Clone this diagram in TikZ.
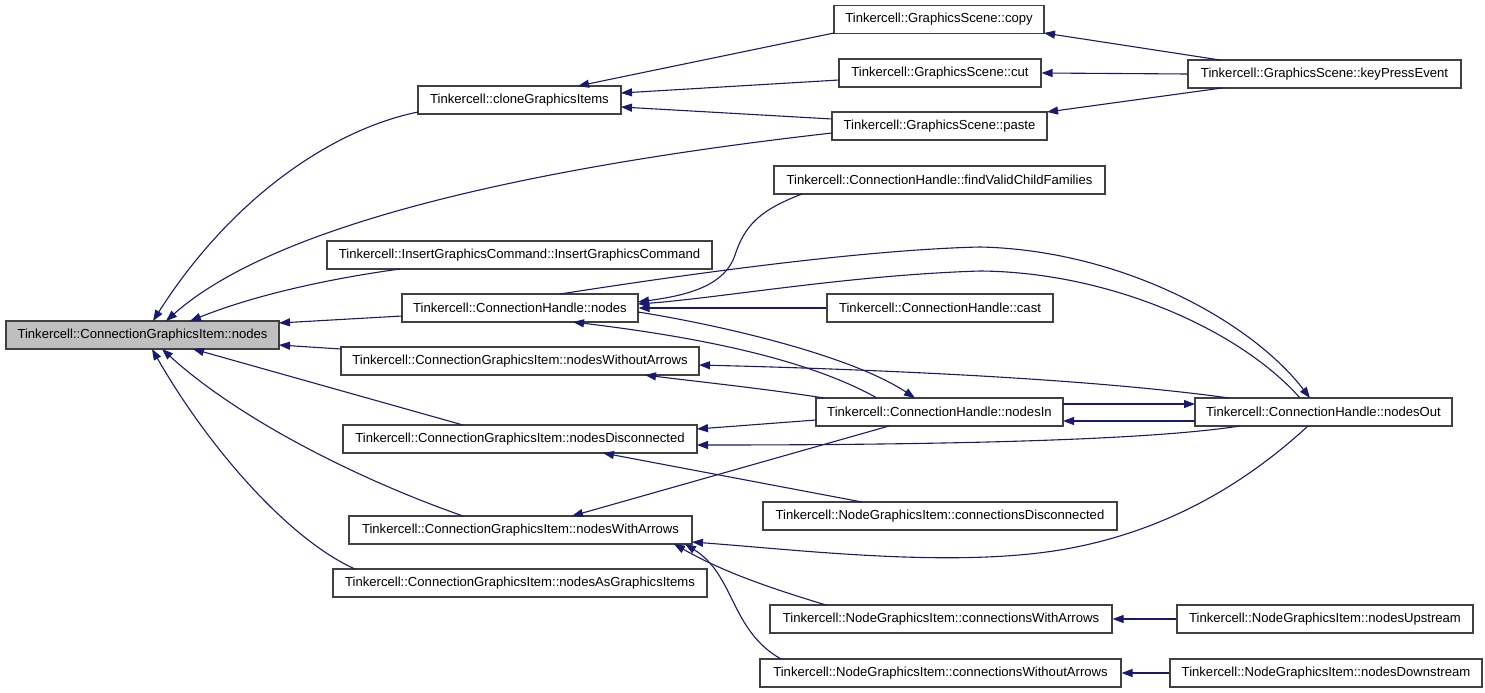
\documentclass[tikz,border=0pt]{standalone}
\usepackage{fontspec}
\setmainfont{Liberation Sans}
\usetikzlibrary{arrows.meta,calc}
\definecolor{edgecol}{HTML}{191970}
\definecolor{rootfill}{HTML}{BFBFBF}
\definecolor{boxline}{HTML}{404040}
\begin{document}
\begin{tikzpicture}[x=1pt,y=-1pt,
  box/.style={draw=boxline, line width=1.1pt, fill=white, minimum height=28pt, inner sep=0pt, font=\fontsize{13.1}{15}\selectfont},
  rootbox/.style={box, fill=rootfill},
  edge/.style={draw=edgecol, line width=1.1pt, -{Triangle[length=11pt,width=8pt]}}]
\useasboundingbox (0,0) rectangle (1485,693);
% nodes
\node[rootbox, minimum width=273pt] (n0) at (142.5,335) {Tinkercell::ConnectionGraphicsItem::nodes};
\node[box, minimum width=203pt] (clone) at (519.5,100) {Tinkercell::cloneGraphicsItems};
\node[box, minimum width=210pt] (copy) at (939,19.5) {Tinkercell::GraphicsScene::copy};
\node[box, minimum width=202pt] (cut) at (940,73) {Tinkercell::GraphicsScene::cut};
\node[box, minimum width=215pt] (paste) at (939.5,126) {Tinkercell::GraphicsScene::paste};
\node[box, minimum width=273pt] (key) at (1324.5,74) {Tinkercell::GraphicsScene::keyPressEvent};
\node[box, minimum width=331pt] (fvcf) at (939.5,180) {Tinkercell::ConnectionHandle::findValidChildFamilies};
\node[box, minimum width=385pt] (igc) at (519.5,255) {Tinkercell::InsertGraphicsCommand::InsertGraphicsCommand};
\node[box, minimum width=236pt] (chn) at (520,308) {Tinkercell::ConnectionHandle::nodes};
\node[box, minimum width=226pt] (cast) at (940,308) {Tinkercell::ConnectionHandle::cast};
\node[box, minimum width=358pt] (nwoa) at (520,361) {Tinkercell::ConnectionGraphicsItem::nodesWithoutArrows};
\node[box, minimum width=247pt] (nin) at (939.5,412) {Tinkercell::ConnectionHandle::nodesIn};
\node[box, minimum width=257pt] (nout) at (1323.5,412) {Tinkercell::ConnectionHandle::nodesOut};
\node[box, minimum width=354pt] (ndisc) at (520,439) {Tinkercell::ConnectionGraphicsItem::nodesDisconnected};
\node[box, minimum width=354pt] (cdisc) at (940,516) {Tinkercell::NodeGraphicsItem::connectionsDisconnected};
\node[box, minimum width=343pt] (nwa) at (520.5,530) {Tinkercell::ConnectionGraphicsItem::nodesWithArrows};
\node[box, minimum width=374pt] (nagi) at (520,583) {Tinkercell::ConnectionGraphicsItem::nodesAsGraphicsItems};
\node[box, minimum width=342pt] (cwa) at (941,619) {Tinkercell::NodeGraphicsItem::connectionsWithArrows};
\node[box, minimum width=296pt] (nup) at (1325,619) {Tinkercell::NodeGraphicsItem::nodesUpstream};
\node[box, minimum width=361pt] (cwoa) at (940.5,673) {Tinkercell::NodeGraphicsItem::connectionsWithoutArrows};
\node[box, minimum width=312pt] (ndown) at (1326,673) {Tinkercell::NodeGraphicsItem::nodesDownstream};
% edges into root
\draw[edge] ($(clone)+(-101.5,12)$) .. controls (330,130) and (230,200) .. ($(n0)+(10.5,-14)$);
\draw[edge] ($(paste)+(-107.5,7)$) .. controls (550,165) and (280,220) .. ($(n0)+(23.5,-14)$);
\draw[edge] ($(igc)+(-119.5,14)$) .. controls (320,280) and (250,297) .. ($(n0)+(47.5,-14)$);
\draw[edge] ($(chn)+(-118,8)$) -- ($(n0)+(136.5,-12)$);
\draw[edge] ($(nwoa)+(-179,-12)$) -- ($(n0)+(136.5,10)$);
\draw[edge] ($(ndisc)+(-57,-14)$) -- ($(n0)+(50.5,14)$);
\draw[edge] ($(nwa)+(-57.5,-14)$) .. controls (360,480) and (240,420) .. ($(n0)+(19.5,14)$);
\draw[edge] ($(nagi)+(-165,-14)$) .. controls (290,540) and (210,450) .. ($(n0)+(9.5,14)$);
% clone callers
\draw[edge] ($(copy)+(-105,13.5)$) -- ($(clone)+(58.5,-14)$);
\draw[edge] ($(cut)+(-101,7)$) -- ($(clone)+(101.5,-7)$);
\draw[edge] ($(paste)+(-107.5,-7)$) -- ($(clone)+(101.5,7)$);
% keyPressEvent
\draw[edge] ($(key)+(-104.5,-14)$) -- ($(copy)+(105,13.5)$);
\draw[edge] (key.west) -- (cut.east);
\draw[edge] ($(key)+(-102.5,14)$) -- ($(paste)+(107.5,-14)$);
% ConnectionHandle::nodes
\draw[edge] ($(fvcf)+(-137.5,14)$) .. controls (760,210) and (745,225) .. (735,255) .. controls (725,285) and (690,295) .. ($(chn)+(118,-6)$);
\draw[edge] (cast.west) -- (chn.east);
\draw[edge] ($(chn)+(40,-14)$) .. controls (650,280) and (850,250) .. (980,247) .. controls (1120,250) and (1250,320) .. ($(nout)+(-13.5,-14)$);
\draw[edge] ($(nout)+(-23.5,-14)$) .. controls (1240,330) and (1110,272) .. (980,271) .. controls (850,275) and (720,298) .. ($(chn)+(118,-4)$);
\draw[edge] ($(chn)+(118,4)$) .. controls (720,325) and (850,355) .. ($(nin)+(-24.5,-14)$);
\draw[edge] ($(nin)+(-62.5,-14)$) .. controls (800,355) and (680,335) .. ($(chn)+(53,14)$);
% nodesIn / nodesOut
\draw[edge] ($(nin)+(-115.5,-14)$) .. controls (760,388) and (700,382) .. ($(nwoa)+(125,14)$);
\draw[edge] ($(nout)+(-94.5,-14)$) .. controls (1100,380) and (900,370) .. ($(nwoa)+(179,4)$);
\draw[edge] ($(nin)+(123.5,-8)$) -- ($(nout)+(-128.5,-8)$);
\draw[edge] ($(nout)+(-128.5,9)$) -- ($(nin)+(123.5,9)$);
\draw[edge] ($(nin)+(-123.5,8)$) -- ($(ndisc)+(177,-10)$);
\draw[edge] ($(nout)+(-83.5,14)$) .. controls (1150,440) and (950,445) .. ($(ndisc)+(177,6)$);
\draw[edge] ($(nin)+(-50.5,14)$) -- ($(nwa)+(51.5,-14)$);
\draw[edge] ($(cdisc)+(-78,-14)$) -- ($(ndisc)+(83,14)$);
\draw[edge] ($(nout)+(-15.5,14)$) .. controls (1260,470) and (1180,530) .. (1060,550) .. controls (950,568) and (800,550) .. ($(nwa)+(171.5,12)$);
% nodesWithArrows callers
\draw[edge] ($(cwa)+(-115,-14)$) .. controls (760,585) and (720,570) .. ($(nwa)+(153.5,14)$);
\draw[edge] ($(cwoa)+(-159.5,-14)$) .. controls (730,630) and (735,575) .. ($(nwa)+(164.5,14)$);
\draw[edge] (nup.west) -- (cwa.east);
\draw[edge] (ndown.west) -- (cwoa.east);
\end{tikzpicture}
\end{document}
